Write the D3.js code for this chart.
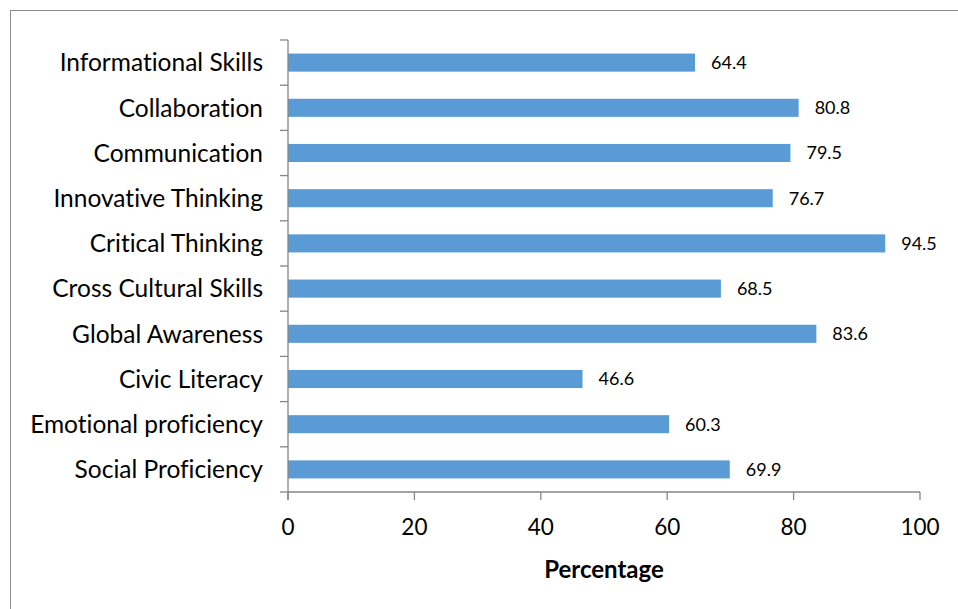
<!DOCTYPE html>
<html>
<head>
<meta charset="utf-8">
<script src="https://cdn.jsdelivr.net/npm/d3@7"></script>
<style>
  body { margin: 0; background: #fff; }
  text { font-family: Lato, "Open Sans", sans-serif; fill: #000; font-variant-ligatures: none; font-feature-settings: "liga" 0, "clig" 0; }
</style>
</head>
<body>
<div id="chart"></div>
<script>
const skills = ["Informational Skills", "Collaboration", "Communication", "Innovative Thinking",
  "Critical Thinking", "Cross Cultural Skills", "Global Awareness", "Civic Literacy",
  "Emotional proficiency", "Social Proficiency"];
const percentages = [64.4, 80.8, 79.5, 76.7, 94.5, 68.5, 83.6, 46.6, 60.3, 69.9];
const xTicks = [0, 20, 40, 60, 80, 100];

const width = 958, height = 609;
const margin = { top: 40, left: 288, right: 38, bottom: 117 };

var svg = d3.select("#chart").append("svg")
  .attr("width", width)
  .attr("height", height);

// chart frame
svg.append("rect")
  .attr("x", 10.5).attr("y", 10.5)
  .attr("width", 960).attr("height", 620)
  .attr("fill", "none")
  .attr("stroke", "#8c8c8c");

var x = d3.scaleLinear()
  .domain([0, 100])
  .range([margin.left, width - margin.right]);

var y = d3.scaleBand()
  .domain(skills)
  .range([margin.top, height - margin.bottom])
  .paddingInner(0.6)
  .paddingOuter(0.3);

var g = svg.append("g");

g.selectAll(".bar")
  .data(skills)
  .enter().append("rect")
  .attr("class", "bar")
  .attr("x", x(0))
  .attr("y", (d) => y(d))
  .attr("width", (d, i) => x(percentages[i]) - x(0))
  .attr("height", y.bandwidth())
  .attr("fill", "#5b9bd5");

g.selectAll(".val")
  .data(skills)
  .enter().append("text")
  .attr("class", "val")
  .attr("x", (d, i) => x(percentages[i]) + 16)
  .attr("y", (d) => y(d) + y.bandwidth() / 2)
  .attr("dy", "0.36em")
  .style("font-size", "18px")
  .text((d, i) => percentages[i].toFixed(1));

// y axis with ticks between categories
var yTop = margin.top, yBot = height - margin.bottom;
var step = (yBot - yTop) / skills.length;
var ax = svg.append("g").attr("stroke", "#868686").attr("stroke-width", 1.3);
ax.append("line")
  .attr("x1", x(0)).attr("x2", x(0))
  .attr("y1", yTop).attr("y2", yBot + 8);
d3.range(skills.length + 1).forEach((i) => {
  ax.append("line")
    .attr("x1", x(0) - 8).attr("x2", x(0))
    .attr("y1", yTop + i * step).attr("y2", yTop + i * step);
});

svg.selectAll(".cat")
  .data(skills)
  .enter().append("text")
  .attr("class", "cat")
  .attr("x", x(0) - 25)
  .attr("y", (d) => y(d) + y.bandwidth() / 2)
  .attr("dy", "0.36em")
  .attr("text-anchor", "end")
  .style("font-size", "24.5px")
  .text((d) => d);

// x axis
ax.append("line")
  .attr("x1", x(0)).attr("x2", x(100))
  .attr("y1", yBot).attr("y2", yBot);
xTicks.forEach((t) => {
  ax.append("line")
    .attr("x1", x(t)).attr("x2", x(t))
    .attr("y1", yBot).attr("y2", yBot + 8);
});

svg.selectAll(".xt")
  .data(xTicks)
  .enter().append("text")
  .attr("class", "xt")
  .attr("x", (d) => x(d))
  .attr("y", yBot + 43)
  .attr("text-anchor", "middle")
  .style("font-size", "22.5px")
  .text((d) => d);

svg.append("text")
  .attr("x", (x(0) + x(100)) / 2)
  .attr("y", yBot + 86)
  .attr("text-anchor", "middle")
  .style("font-size", "24px")
  .style("font-weight", "bold")
  .text("Percentage");
</script>
</body>
</html>
